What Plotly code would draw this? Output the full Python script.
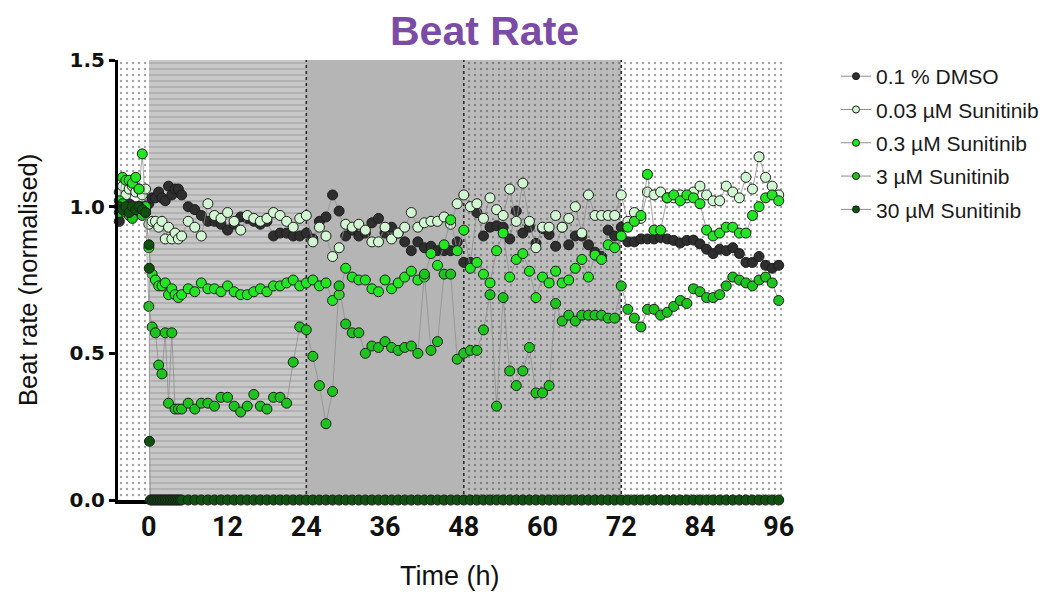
import plotly.graph_objects as go

# ---- sampling times (h, relative to dosing) ----
pre_times = [-4.5, -4.0, -3.5, -3.0, -2.5, -2.0, -1.5, -1.0, -0.5]
early_times = [0.0, 0.5, 1.0, 1.5, 2.0, 2.5, 3.0, 3.5, 4.0, 4.5]
hourly_times = list(range(5, 97))
times = pre_times + early_times + hourly_times

# 30 uM wells were read more often right after dosing
t30_early = [0.02, 0.06, 0.10, 0.25, 0.50, 0.75, 1.00, 1.25, 1.50, 1.75, 2.00,
             2.25, 2.50, 2.75, 3.00, 3.25, 3.50, 3.75, 4.00, 4.25, 4.50, 4.75]
times_30 = pre_times + t30_early + hourly_times

# ---- normalised beat rate ----
dmso = ([0.95, 0.99, 1.00, 1.01, 0.99, 1.00, 0.98, 1.00, 0.99]
        + [1.01, 1.03, 1.03, 1.05, 1.03, 1.02, 1.07, 1.04, 1.06, 1.06]
        + [1.04, 1.00, 0.99, 0.97, 0.95, 0.95, 0.94, 0.92,
           0.94, 0.965, 0.96, 0.95, 0.94, 0.95, 0.90, 0.91, 0.91, 0.90, 0.90, 0.91,
           0.89, 0.95, 0.965, 1.04, 0.985, 0.90, 0.92, 0.90, 0.91, 0.945, 0.96, 0.91,
           0.93, 0.91, 0.88, 0.85, 0.88, 0.86, 0.865, 0.85, 0.85, 0.85, 0.88, 0.81,
           0.81, 0.98, 0.90, 0.93, 0.935, 0.93, 0.89, 0.985, 0.91, 0.93, 0.875, 0.925,
           0.905, 0.865, 0.93, 0.87, 0.90, 0.90, 0.87, 0.845, 0.83, 0.92, 0.90, 0.93,
           0.88, 0.88, 0.89, 0.89, 0.89, 0.895, 0.89, 0.885, 0.876, 0.885, 0.886, 0.873,
           0.855, 0.84, 0.855, 0.85, 0.86, 0.84, 0.81, 0.81, 0.83, 0.80, 0.79, 0.80])

sun_003 = ([1.05, 1.07, 1.04, 1.06, 1.07, 1.05, 1.06, 1.04, 1.06]
           + [0.94, 0.95, 0.95, 0.93, 0.95, 0.89, 0.93, 0.89, 0.91, 0.89]
           + [0.90, 0.95, 0.93, 0.90, 1.01, 0.97, 0.96, 0.98,
              0.95, 0.92, 0.97, 0.96, 0.95, 0.96, 0.98, 0.97, 0.95, 0.93, 0.96, 0.97,
              0.88, 0.93, 0.90, 0.83, 0.86, 0.94, 0.93, 0.94, 0.92, 0.88, 0.88, 0.93,
              0.89, 0.91, 0.93, 0.98, 0.93, 0.945, 0.95, 0.95, 0.965, 0.94, 1.01, 1.04,
              1.00, 1.01, 0.96, 1.03, 0.99, 0.97, 1.06, 0.95, 1.08, 0.95, 0.86, 0.93,
              0.93, 0.97, 0.93, 0.96, 1.00, 0.91, 1.04, 0.97, 0.97, 0.97, 0.97, 1.04,
              0.95, 0.98, 0.96, 1.05, 1.04, 1.05, 1.03, 1.03, 1.04, 1.03, 1.05, 1.07,
              1.04, 1.02, 1.02, 1.07, 1.05, 1.03, 1.10, 1.06, 1.17, 1.10, 1.07, 1.04])

sun_03 = ([1.02, 1.10, 1.09, 1.09, 1.08, 1.10, 1.06, 1.18, 1.00]
          + [0.86, 0.77, 0.75, 0.73, 0.73, 0.74, 0.70, 0.72, 0.70, 0.69]
          + [0.70, 0.72, 0.71, 0.74, 0.72, 0.72, 0.71, 0.73,
             0.71, 0.70, 0.70, 0.71, 0.72, 0.71, 0.73, 0.73, 0.74, 0.75, 0.73, 0.74,
             0.75, 0.73, 0.74, 0.68, 0.70, 0.79, 0.76, 0.75, 0.75, 0.72, 0.71, 0.75,
             0.72, 0.74, 0.76, 0.78, 0.75, 0.76, 0.84, 0.80, 0.87, 0.955, 0.85, 0.92,
             0.79, 0.81, 0.77, 0.74, 0.85, 0.91, 0.76, 0.82, 0.84, 0.78, 0.69, 0.76,
             0.74, 0.78, 0.74, 0.75, 0.79, 0.82, 0.76, 0.835, 0.82, 0.87, 0.86, 0.90,
             0.93, 0.95, 0.97, 1.11, 0.92, 0.92, 1.03, 1.04, 1.02, 1.04, 1.03, 1.01,
             0.92, 0.90, 0.91, 0.93, 0.93, 0.91, 0.91, 0.97, 1.00, 1.03, 1.04, 1.02])

sun_3 = ([0.98, 1.01, 0.98, 0.97, 0.96, 0.99, 1.00, 0.97, 0.98]
         + [0.66, 0.59, 0.57, 0.46, 0.43, 0.57, 0.33, 0.57, 0.31, 0.31]
         + [0.31, 0.33, 0.31, 0.33, 0.33, 0.32, 0.35, 0.35,
            0.32, 0.30, 0.32, 0.36, 0.32, 0.31, 0.35, 0.35, 0.33, 0.47, 0.59, 0.58,
            0.49, 0.39, 0.26, 0.37, 0.73, 0.60, 0.57, 0.57, 0.50, 0.525, 0.52, 0.54,
            0.52, 0.51, 0.52, 0.525, 0.50, 0.77, 0.51, 0.54, 0.77, 0.77, 0.48, 0.50,
            0.51, 0.51, 0.58, 0.70, 0.32, 0.69, 0.44, 0.39, 0.44, 0.52, 0.365, 0.365,
            0.39, 0.67, 0.61, 0.63, 0.61, 0.63, 0.63, 0.63, 0.63, 0.62, 0.62, 0.73,
            0.65, 0.62, 0.59, 0.65, 0.65, 0.63, 0.64, 0.66, 0.68, 0.67, 0.72, 0.71,
            0.69, 0.69, 0.70, 0.73, 0.76, 0.75, 0.74, 0.73, 0.75, 0.76, 0.74, 0.68])

sun_30 = ([1.00, 0.99, 1.00, 0.98, 1.00, 0.99, 1.00, 0.99, 0.98]
          + [0.87, 0.79, 0.20] + [0.0] * 19
          + [0.0] * 92)

series_names = ["0.1 % DMSO", "0.03 µM Sunitinib", "0.3 µM Sunitinib",
                "3 µM Sunitinib", "30 µM Sunitinib"]
series_values = [dmso, sun_003, sun_03, sun_3, sun_30]
series_times = [times, times, times, times, times_30]
series_colors = ["#2e2e2e", "#d2f5d2", "#22e622", "#1ec41e", "#0d520d"]

# ---- treatment periods drawn behind the data ----
period_edges = [-4.7, 0, 24, 48, 72, 96.5]
period_fill = ["#ffffff", "#c8c8c8", "#b5b5b5", "#bcbcbc", "#ffffff"]
period_texture = ["#c4c4c4", "#bfbfbf", "#b5b5b5", "#adadad", "#c4c4c4"]
period_shape = [".", "-", "", ".", "."]
dosing_marks = [24, 48, 72]

y_max = 1.5
x_ticks = [0, 12, 24, 36, 48, 60, 72, 84, 96]
y_ticks = [0.0, 0.5, 1.0, 1.5]

fig = go.Figure()

fig.add_trace(go.Bar(
    x=[(a + b) / 2 for a, b in zip(period_edges[:-1], period_edges[1:])],
    y=[y_max] * (len(period_edges) - 1),
    width=[b - a for a, b in zip(period_edges[:-1], period_edges[1:])],
    base=0,
    marker=dict(
        color=period_fill,
        line=dict(width=0),
        pattern=dict(shape=period_shape, fgcolor=period_texture,
                     bgcolor=period_fill, size=6, solidity=0.12),
    ),
    hoverinfo="skip", showlegend=False,
))

for xv in dosing_marks:
    fig.add_trace(go.Scatter(
        x=[xv, xv], y=[0, y_max], mode="lines",
        line=dict(color="#2a2a2a", width=1.6, dash="dot"),
        hoverinfo="skip", showlegend=False,
    ))

for name, xs, ys, col in zip(series_names, series_times, series_values, series_colors):
    fig.add_trace(go.Scatter(
        x=xs, y=ys, mode="lines+markers", name=name, showlegend=False,
        line=dict(color="#8e8e8e", width=0.8),
        marker=dict(size=10, color=col, line=dict(color="#1c1c1c", width=1)),
        cliponaxis=False,
    ))

# legend entries with smaller symbols
for i, (name, col) in enumerate(zip(series_names, series_colors)):
    fig.add_trace(go.Scatter(
        x=[None], y=[None], mode="lines+markers", name=name,
        legendgroup=f"g{i}",
        line=dict(color="#8e8e8e", width=1),
        marker=dict(size=7, color=col, line=dict(color="#1c1c1c", width=1)),
    ))

fig.update_layout(
    width=1045, height=596,
    margin=dict(l=118, r=263, t=60, b=96),
    paper_bgcolor="white", plot_bgcolor="white",
    bargap=0,
    showlegend=True,
    legend=dict(
        xref="container", yref="container", x=0.8, y=0.906,
        xanchor="left", yanchor="top",
        font=dict(family="Liberation Sans, Arial, sans-serif", size=21, color="#1a1a1a"),
        tracegroupgap=3, bgcolor="rgba(0,0,0,0)",
    ),
    xaxis=dict(
        range=[period_edges[0], period_edges[-1]],
        tickvals=x_ticks, ticktext=[str(v) for v in x_ticks],
        ticks="", ticklabelstandoff=0,
        showline=True, linecolor="black", linewidth=4,
        showgrid=False, zeroline=False, layer="below traces",
        tickfont=dict(family="Roboto, Liberation Sans, sans-serif",
                      size=27, color="#111111", weight="bold"),
    ),
    yaxis=dict(
        range=[0, y_max],
        tickvals=y_ticks, ticktext=[f"{v:.1f}" for v in y_ticks],
        ticks="outside", ticklen=6, tickwidth=2.5, tickcolor="black",
        showline=True, linecolor="black", linewidth=3,
        showgrid=False, zeroline=False,
        tickfont=dict(family="DejaVu Sans, sans-serif", size=20,
                      color="#111111", weight="bold"),
    ),
    annotations=[
        dict(text="Beat Rate", xref="paper", yref="paper", x=0.552, y=1.0,
             yanchor="bottom", yshift=4, showarrow=False,
             font=dict(family="Liberation Sans, Arial, sans-serif", size=41,
                       color="#7b4ca6", weight="bold")),
        dict(text="Beat rate (normalised)", xref="paper", yref="paper",
             x=0, y=0.5, xshift=-106, textangle=-90, showarrow=False,
             font=dict(family="Liberation Sans, Arial, sans-serif", size=25.5, color="#111111")),
        dict(text="Time (h)", xref="paper", yref="paper", x=0.5, y=0,
             yshift=-93, showarrow=False,
             font=dict(family="Liberation Sans, Arial, sans-serif", size=27, color="#111111")),
    ],
)

fig.write_html("out.html")
